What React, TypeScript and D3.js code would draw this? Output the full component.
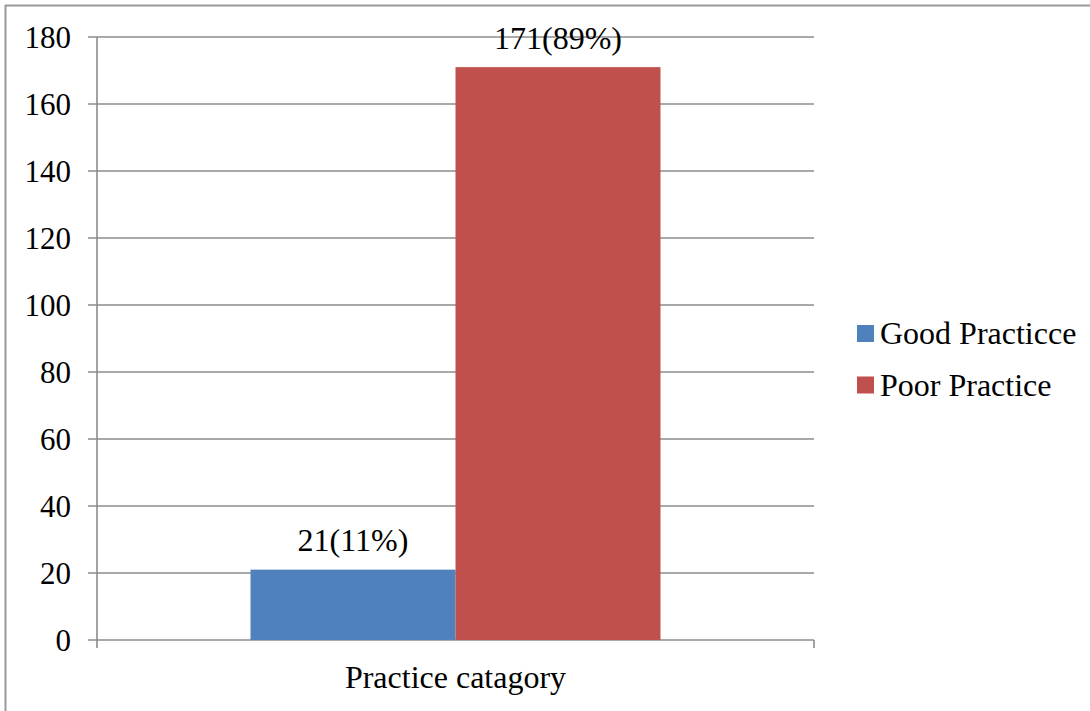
import React from "react";
import * as d3 from "d3";

const categories = ["Practice catagory"];
const seriesNames = ["Good Practicce", "Poor Practice"];
const seriesValues = [21, 171];
const dataLabels = ["21(11%)", "171(89%)"];
const seriesColors = ["#4f81bd", "#c0504d"];
const yTicks = [0, 20, 40, 60, 80, 100, 120, 140, 160, 180];

const W = 1090;
const H = 711;
const FONT = '"Liberation Serif"';
const GRID = "#8c8c8c";
const ts = { fontFamily: FONT };

export default function App() {
  const plotLeft = 97;
  const plotRight = 814;
  const plotTop = 37;
  const plotBottom = 640;

  const y = d3.scaleLinear().domain([0, 180]).range([plotBottom, plotTop]);
  const x0 = d3.scaleBand<string>().domain(categories).range([plotLeft, plotRight]).padding(0);
  const bw = x0.bandwidth();
  const x1 = d3
    .scaleBand<string>()
    .domain(seriesNames)
    .range([bw * 0.2141, bw * 0.7859])
    .padding(0);

  return (
    <svg width={W} height={H} style={{ position: "absolute", left: 0, top: 0, background: "#fff" }}>
      <rect x={0} y={0} width={W} height={H} fill="#fff" />
      {/* outer border */}
      <line x1={5} y1={5.5} x2={W} y2={5.5} stroke="#999" strokeWidth={2} />
      <line x1={5.5} y1={5} x2={5.5} y2={H} stroke="#999" strokeWidth={2} />

      {/* gridlines and y ticks */}
      {yTicks.map((t) => (
        <g key={t}>
          <line x1={plotLeft - 9} x2={plotRight} y1={y(t)} y2={y(t)} stroke={GRID} strokeWidth={1.6} />
          <text x={71} y={y(t)} dy="0.34em" textAnchor="end" fontSize={31} fill="#000" style={ts}>
            {t}
          </text>
        </g>
      ))}
      {/* y axis */}
      <line x1={plotLeft} x2={plotLeft} y1={plotTop} y2={plotBottom + 8} stroke={GRID} strokeWidth={1.6} />
      {/* x axis end tick */}
      <line x1={plotRight} x2={plotRight} y1={plotBottom} y2={plotBottom + 8} stroke={GRID} strokeWidth={1.6} />

      {/* bars */}
      {categories.map((c) => (
        <g key={c} transform={`translate(${x0(c)},0)`}>
          {seriesNames.map((s, i) => (
            <g key={s}>
              <rect
                x={x1(s)}
                y={y(seriesValues[i])}
                width={x1.bandwidth()}
                height={y(0) - y(seriesValues[i])}
                fill={seriesColors[i]}
              />
              <text
                x={(x1(s) as number) + x1.bandwidth() / 2}
                y={y(seriesValues[i]) - 18.5}
                textAnchor="middle"
                fontSize={32}
                fill="#000"
                style={ts}
              >
                {dataLabels[i]}
              </text>
            </g>
          ))}
          <text x={bw / 2} y={688} textAnchor="middle" fontSize={32} fill="#000" style={ts}>
            {c}
          </text>
        </g>
      ))}

      {/* legend */}
      {seriesNames.map((s, i) => (
        <g key={s} transform={`translate(857, ${325 + i * 51.5})`}>
          <rect x={0} y={0} width={17} height={17} fill={seriesColors[i]} />
          <text x={23} y={19} fontSize={32} fill="#000" style={ts}>
            {s}
          </text>
        </g>
      ))}
    </svg>
  );
}
